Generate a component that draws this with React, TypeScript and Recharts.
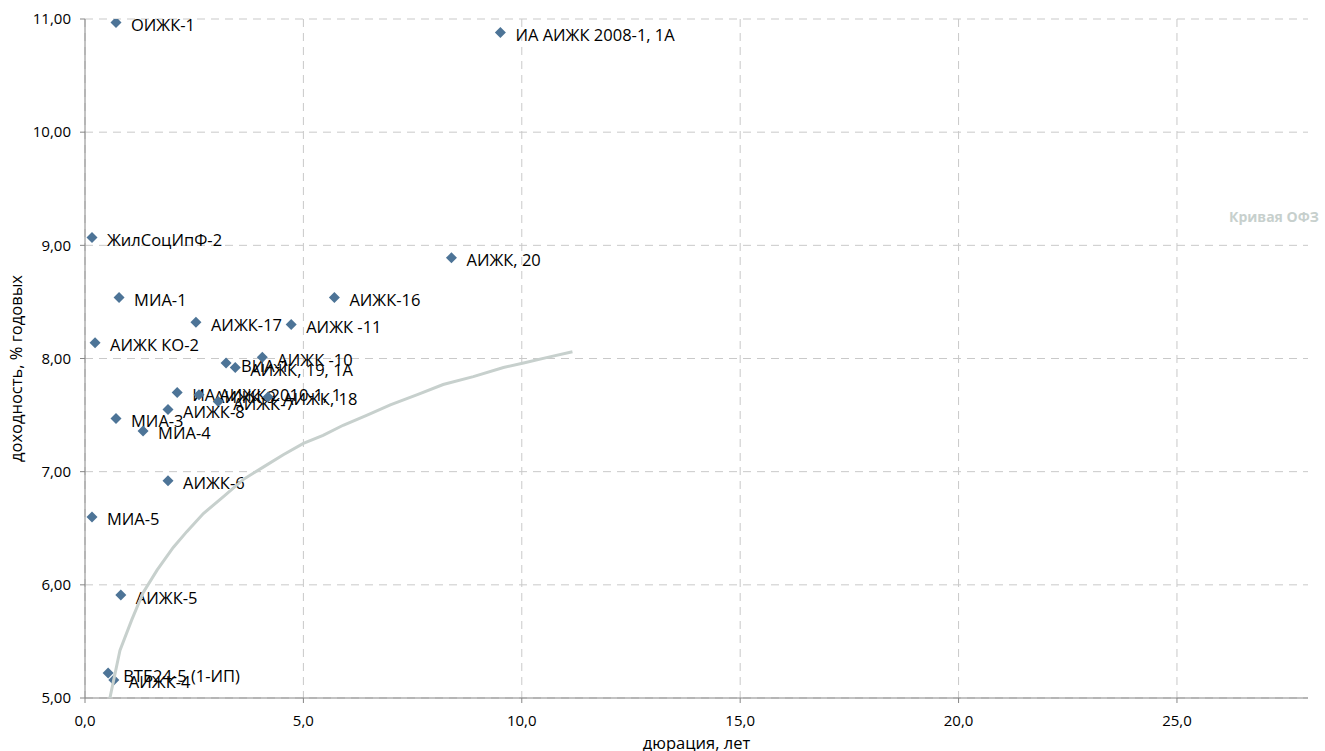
import React from 'react';
import { ScatterChart, Scatter, XAxis, YAxis, CartesianGrid } from 'recharts';

// Bonds (names, duration in years, yield % p.a.)
const bondNames = [
  'ОИЖК-1',
  'ИА АИЖК 2008-1, 1А',
  'ЖилСоцИпФ-2',
  'АИЖК, 20',
  'МИА-1',
  'АИЖК-16',
  'АИЖК-17',
  'АИЖК -11',
  'АИЖК КО-2',
  'ВИА-1',
  'АИЖК, 19, 1А',
  'АИЖК -10',
  'ИА АИЖК 2010-1, 1',
  'АИЖК-9',
  'АИЖК-7',
  'АИЖК, 18',
  'АИЖК-8',
  'МИА-3',
  'МИА-4',
  'АИЖК-6',
  'МИА-5',
  'АИЖК-5',
  'ВТБ24-5 (1-ИП)',
  'АИЖК-4',
];
const bondDurations = [
  0.71, 9.51, 0.16, 8.39, 0.78, 5.71, 2.54, 4.72, 0.23, 3.23, 3.44, 4.06,
  2.11, 2.61, 3.05, 4.19, 1.9, 0.71, 1.33, 1.9, 0.16, 0.82, 0.53, 0.66,
];
const bondYields = [
  10.97, 10.88, 9.07, 8.89, 8.54, 8.54, 8.32, 8.3, 8.14, 7.96, 7.92, 8.01,
  7.7, 7.68, 7.62, 7.66, 7.55, 7.47, 7.36, 6.92, 6.6, 5.91, 5.22, 5.16,
];

// OFZ curve
const curveDurations = [
  0.57, 0.8, 1.07, 1.33, 1.65, 2.02, 2.33, 2.71, 3.17, 3.62, 4.08, 4.54, 5.0,
  5.45, 5.91, 6.46, 6.99, 7.61, 8.2, 8.89, 9.58, 10.04, 10.59, 11.16,
];
const curveYields = [
  5.0, 5.42, 5.69, 5.93, 6.13, 6.33, 6.47, 6.63, 6.78, 6.93, 7.04, 7.15, 7.25,
  7.32, 7.41, 7.5, 7.59, 7.68, 7.77, 7.84, 7.92, 7.96, 8.01, 8.06,
];

const xTicks = [0, 5, 10, 15, 20, 25];
const yTicks = [5, 6, 7, 8, 9, 10, 11];

const xAxisTitle = 'дюрация, лет';
const yAxisTitle = 'доходность, % годовых';
const curveName = 'Кривая ОФЗ';

const bondData = bondNames.map((name, i) => ({ name, x: bondDurations[i], y: bondYields[i] }));
const curveData = curveDurations.map((x, i) => ({ x, y: curveYields[i] }));

const FONT = '"Open Sans", sans-serif';
const MARKER = '#4d7497';
const CURVE = '#c7d0cd';
const AXIS = '#868686';
const GRID = '#c9c9c9';
const LABEL_SIZE = 16.5;
const TICK_SIZE = 15;

const DiamondWithLabel = (props: any) => {
  const { cx, cy, payload } = props;
  if (cx == null || cy == null) return <g />;
  const r = 5.5;
  return (
    <g>
      <path d={`M${cx},${cy - r}L${cx + r},${cy}L${cx},${cy + r}L${cx - r},${cy}Z`} fill={MARKER} />
      <text
        x={cx + 15}
        y={cy + 2}
        dominantBaseline="central"
        fontFamily={FONT}
        fontSize={LABEL_SIZE}
        fill="#000"
      >
        {payload.name}
      </text>
    </g>
  );
};

const NoShape = () => <g />;

const YTitle = (props: any) => {
  const vb = props.viewBox || {};
  const x = 15;
  const y = vb.y + vb.height - 236;
  return (
    <text
      x={x}
      y={y}
      transform={`rotate(-90 ${x} ${y})`}
      textAnchor="start"
      dominantBaseline="central"
      fontFamily={FONT}
      fontSize={LABEL_SIZE}
      fill="#000"
    >
      {yAxisTitle}
    </text>
  );
};

export default function App() {
  return (
    <div style={{ width: 1325, height: 751, position: 'relative', background: '#fff', overflow: 'hidden' }}>
      <style>{'html,body{margin:0;padding:0;}'}</style>
      <ScatterChart
        width={1325}
        height={751}
        margin={{ top: 19, right: 17, bottom: 23, left: 0 }}
      >
        <CartesianGrid stroke={GRID} strokeDasharray="8 6" horizontalValues={yTicks} verticalValues={xTicks} />
        <XAxis
          type="number"
          dataKey="x"
          domain={[0, 28]}
          ticks={xTicks}
          allowDataOverflow
          height={30}
          tickSize={5}
          tickMargin={12}
          stroke={AXIS}
          tick={{ fill: '#000', fontFamily: FONT, fontSize: TICK_SIZE }}
          tickFormatter={(v: number) => v.toFixed(1).replace('.', ',')}
          label={{
            value: xAxisTitle,
            position: 'bottom',
            offset: 9,
            style: { fill: '#000', fontFamily: FONT, fontSize: LABEL_SIZE },
          }}
        />
        <YAxis
          type="number"
          dataKey="y"
          domain={[5, 11]}
          ticks={yTicks}
          allowDataOverflow
          width={85}
          tickSize={5}
          tickMargin={9}
          stroke={AXIS}
          tick={{ fill: '#000', fontFamily: FONT, fontSize: TICK_SIZE }}
          tickFormatter={(v: number) => v.toFixed(2).replace('.', ',')}
          label={{ content: YTitle }}
        />
        <Scatter
          name="bonds"
          data={bondData}
          shape={DiamondWithLabel}
          isAnimationActive={false}
          legendType="none"
        />
        <Scatter
          name={curveName}
          data={curveData}
          line={{ stroke: CURVE, strokeWidth: 3 }}
          lineType="joint"
          shape={NoShape}
          isAnimationActive={false}
        />
      </ScatterChart>
      <div
        style={{
          position: 'absolute',
          left: 1229,
          top: 207,
          lineHeight: '20px',
          fontFamily: FONT,
          fontSize: 14,
          fontWeight: 700,
          color: CURVE,
          whiteSpace: 'nowrap',
        }}
      >
        {curveName}
      </div>
    </div>
  );
}
